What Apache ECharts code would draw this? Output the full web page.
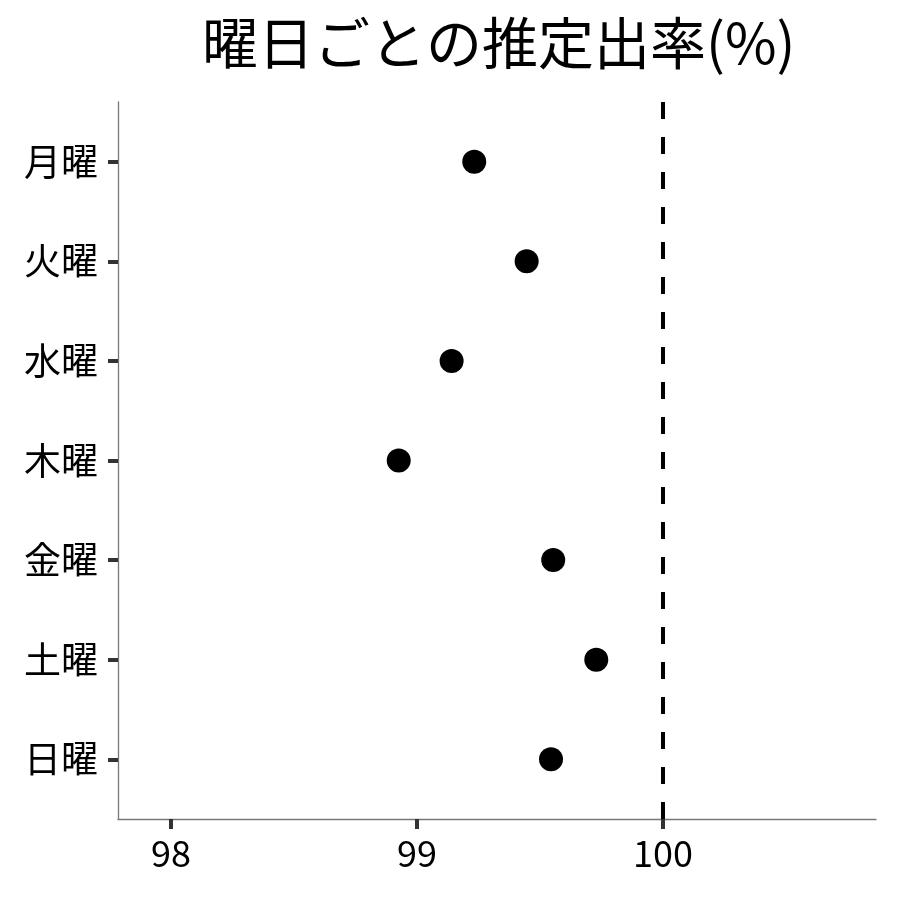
<!DOCTYPE html>
<html>
<head>
<meta charset="utf-8">
<script src="https://cdn.jsdelivr.net/npm/echarts@6/dist/echarts.min.js"></script>
<style>
html,body{margin:0;padding:0;background:#fff;}
#c{width:900px;height:900px;}
</style>
</head>
<body>
<div id="c"></div>
<script>
const titleText = '曜日ごとの推定出率(%)';
const categories = ['月曜', '火曜', '水曜', '木曜', '金曜', '土曜', '日曜'];
const rates = [99.233, 99.446, 99.141, 98.926, 99.554, 99.729, 99.545];
const xTicks = [98, 99, 100];
const refValue = 100;

const FONT = '"Noto Sans CJK JP", "Noto Sans", sans-serif';
const chart = echarts.init(document.getElementById('c'), null, {renderer: 'canvas'});
const points = rates.map((v, i) => [v, i]);

chart.setOption({
  backgroundColor: '#ffffff',
  animation: false,
  title: {
    text: titleText,
    left: 197,
    top: 10,
    textStyle: {fontFamily: FONT, fontSize: 56, fontWeight: 'normal', color: '#000'}
  },
  grid: {left: 118, right: 24, top: 102, bottom: 81, containLabel: false},
  xAxis: {
    type: 'value',
    min: 97.785,
    max: 100.866,
    splitLine: {show: false},
    axisLine: {show: true, onZero: false, lineStyle: {color: '#777', width: 1.3}},
    axisTick: {show: true, customValues: xTicks, length: 10, lineStyle: {color: '#333', width: 4}},
    axisLabel: {show: true, customValues: xTicks, margin: 16, fontFamily: FONT, fontSize: 36, color: '#000'}
  },
  yAxis: {
    type: 'value',
    inverse: true,
    min: -0.6,
    max: 6.6,
    splitLine: {show: false},
    axisLine: {show: true, onZero: false, lineStyle: {color: '#777', width: 1.3}},
    axisTick: {show: true, customValues: categories.map((c, i) => i), length: 10, lineStyle: {color: '#333', width: 4}},
    axisLabel: {
      show: true,
      customValues: categories.map((c, i) => i),
      margin: 20,
      fontFamily: FONT, fontSize: 37, color: '#000',
      formatter: v => categories[Math.round(v)] || ''
    }
  },
  series: [{
    type: 'scatter',
    data: points,
    symbol: 'circle',
    symbolSize: 24,
    itemStyle: {color: '#000', opacity: 1},
    markLine: {
      silent: true,
      symbol: ['none', 'none'],
      label: {show: false},
      lineStyle: {color: '#000', width: 4, type: [17, 18]},
      data: [{xAxis: refValue}]
    }
  }]
});
</script>
</body>
</html>
